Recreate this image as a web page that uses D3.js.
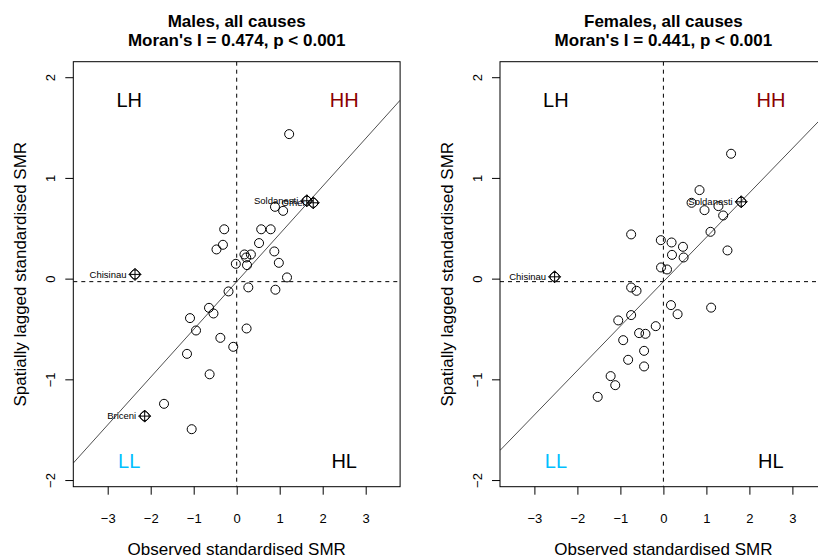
<!DOCTYPE html>
<html>
<head>
  <meta charset="utf-8">
  <style>
    html, body {
      margin: 0;
      overflow: hidden;
      background: #fff;
    }
    svg { display: block; }
    text {
      font-family: "Liberation Sans", Arial, sans-serif;
      fill: #000;
    }
    .title { font-size: 17px; font-weight: bold; }
    .axis text { font-size: 13px; }
    .axis line { stroke: #000; }
    .axlab { font-size: 17px; }
    .quad { font-size: 20px; }
    .name { font-size: 9.5px; }
    .pt, .inf { fill: none; stroke: #000; stroke-width: 1px; }
    .box { fill: none; stroke: #000; stroke-width: 1px; }
    .ref { stroke: #000; stroke-width: 1px; stroke-dasharray: 4,4; }
    .reg { stroke: #222; stroke-width: 0.8px; }
  </style>
  <script src="https://d3js.org/d3.v7.min.js"></script>
</head>
<body>
  <svg id="svg" width="818" height="560"></svg>
  <script>
    var X_TICKS = [-3, -2, -1, 0, 1, 2, 3];
    var Y_TICKS = [-2, -1, 0, 1, 2];
    var X_DOMAIN = [-3.8, 3.8];
    var Y_DOMAIN = [-2.066, 2.154];

    var QUAD_LABELS = ["LH", "HH", "LL", "HL"];
    var QUAD_X = [-2.5, 2.5, -2.5, 2.5];
    var QUAD_Y = [1.78, 1.78, -1.81, -1.81];
    var QUAD_COLORS = ["#000000", "#8b0000", "#00bfff", "#000000"];

    var TITLES = ["Males, all causes", "Females, all causes"];
    var MORAN_I = [0.474, 0.441];
    var LAG_MEAN = [-0.03, -0.03];
    var X_LABEL = "Observed standardised SMR";
    var Y_LABEL = "Spatially lagged standardised SMR";

    // males: observed (x) and spatially lagged (y) standardised SMR
    var maleX = [1.22, 1.63, 1.78, 0.89, 1.08, -0.29, 0.57, 0.79, -0.32, -0.47,
                 0.52, 0.875, 0.18, 0.33, 0.22, -0.02, 0.24, 0.98, 1.17, -2.365,
                 0.27, 0.90, -0.19, -0.644, -0.54, -1.086, -0.946, 0.23, -0.38, -0.08,
                 -1.156, -0.63, -1.69, -2.14, -1.047];
    var maleY = [1.435, 0.773, 0.753, 0.713, 0.673, 0.49, 0.49, 0.49, 0.336, 0.29,
                 0.353, 0.27, 0.24, 0.24, 0.21, 0.147, 0.134, 0.157, 0.012, 0.042,
                 -0.087, -0.11, -0.127, -0.29, -0.346, -0.392, -0.515, -0.495, -0.588, -0.677,
                 -0.747, -0.95, -1.243, -1.365, -1.495];
    var maleNames = ["", "Soldanesti", "Orhei", "", "", "", "", "", "", "",
                     "", "", "", "", "", "", "", "", "", "Chisinau",
                     "", "", "", "", "", "", "", "", "", "",
                     "", "", "", "Briceni", ""];

    // females
    var femaleX = [1.574, 0.84, 1.81, 0.655, 1.28, 0.956, 1.39, 1.095, -0.75, -0.06,
                   0.19, 0.455, 1.49, 0.2, 0.47, -0.055, 0.084, -2.53, -0.75, -0.625,
                   0.176, 1.11, 0.33, -0.75, -1.05, -0.178, -0.565, -0.417, -0.935, -0.449,
                   -0.82, -0.449, -1.227, -1.12, -1.528];
    var femaleY = [1.24, 0.879, 0.763, 0.753, 0.72, 0.68, 0.627, 0.465, 0.439, 0.382,
                   0.359, 0.316, 0.28, 0.236, 0.21, 0.111, 0.091, 0.018, -0.088, -0.121,
                   -0.263, -0.288, -0.353, -0.362, -0.415, -0.472, -0.541, -0.548, -0.611, -0.717,
                   -0.806, -0.872, -0.968, -1.058, -1.174];
    var femaleNames = ["", "", "Soldanesti", "", "", "", "", "", "", "",
                       "", "", "", "", "", "", "", "Chisinau", "", "",
                       "", "", "", "", "", "", "", "", "", "",
                       "", "", "", "", ""];

    var PLOT_W = 326.8;
    var TOP = 61.7, BOTTOM = 486.7;
    var panels = [
      {left: 73.3, xs: maleX, ys: maleY, names: maleNames},
      {left: 500, xs: femaleX, ys: femaleY, names: femaleNames}
    ];

    var svg = d3.select("#svg");
    var defs = svg.append("defs");

    panels.forEach(function(p, i) {
      var x = d3.scaleLinear().domain(X_DOMAIN).range([p.left, p.left + PLOT_W]);
      var y = d3.scaleLinear().domain(Y_DOMAIN).range([BOTTOM, TOP]);
      var cx = p.left + PLOT_W / 2;
      var g = svg.append("g");

      defs.append("clipPath").attr("id", "clip" + i)
        .append("rect")
        .attr("x", p.left).attr("y", TOP)
        .attr("width", PLOT_W).attr("height", BOTTOM - TOP);

      // titles
      g.append("text").attr("class", "title")
        .attr("x", cx).attr("y", 26.7)
        .attr("text-anchor", "middle")
        .text(TITLES[i]);
      g.append("text").attr("class", "title")
        .attr("x", cx).attr("y", 46)
        .attr("text-anchor", "middle")
        .text("Moran's I = " + MORAN_I[i].toFixed(3) + ", p < 0.001");

      // axes
      var xAxis = d3.axisBottom(x).tickValues(X_TICKS).tickSize(8).tickPadding(19)
        .tickFormat(d3.format("d"));
      var xg = g.append("g").attr("class", "axis")
        .attr("transform", "translate(0," + BOTTOM + ")")
        .call(xAxis);
      xg.select(".domain").remove();
      xg.selectAll("text").attr("font-family", null).attr("font-size", null);

      var yAxis = d3.axisLeft(y).tickValues(Y_TICKS).tickSize(8)
        .tickFormat(d3.format("d"));
      var yg = g.append("g").attr("class", "axis")
        .attr("transform", "translate(" + p.left + ",0)")
        .call(yAxis);
      yg.select(".domain").remove();
      yg.selectAll("text")
        .attr("font-family", null).attr("font-size", null)
        .attr("x", 0).attr("y", -23).attr("dy", "0.35em")
        .attr("text-anchor", "middle")
        .attr("transform", "rotate(-90)");

      // axis titles
      g.append("text").attr("class", "axlab")
        .attr("x", cx).attr("y", 549).attr("dy", "0.35em")
        .attr("text-anchor", "middle")
        .text(X_LABEL);
      g.append("text").attr("class", "axlab")
        .attr("transform", "translate(" + (p.left - 53) + "," + ((TOP + BOTTOM) / 2) + ") rotate(-90)")
        .attr("dy", "0.35em")
        .attr("text-anchor", "middle")
        .text(Y_LABEL);

      var inner = g.append("g").attr("clip-path", "url(#clip" + i + ")");

      // reference lines
      inner.append("line").attr("class", "ref")
        .attr("x1", x(0)).attr("x2", x(0))
        .attr("y1", TOP).attr("y2", BOTTOM);
      inner.append("line").attr("class", "ref")
        .attr("x1", p.left).attr("x2", p.left + PLOT_W)
        .attr("y1", y(LAG_MEAN[i])).attr("y2", y(LAG_MEAN[i]));

      // regression line, slope = Moran's I
      inner.append("line").attr("class", "reg")
        .attr("x1", x(X_DOMAIN[0])).attr("y1", y(LAG_MEAN[i] + MORAN_I[i] * X_DOMAIN[0]))
        .attr("x2", x(X_DOMAIN[1])).attr("y2", y(LAG_MEAN[i] + MORAN_I[i] * X_DOMAIN[1]));

      // quadrant labels
      QUAD_LABELS.forEach(function(q, k) {
        inner.append("text").attr("class", "quad")
          .attr("x", x(QUAD_X[k])).attr("y", y(QUAD_Y[k]))
          .attr("dy", "0.36em")
          .attr("text-anchor", "middle")
          .style("fill", QUAD_COLORS[k])
          .text(q);
      });

      var idx = d3.range(p.xs.length);

      inner.selectAll("circle.pt").data(idx).enter()
        .append("circle").attr("class", "pt")
        .attr("cx", function(d) { return x(p.xs[d]); })
        .attr("cy", function(d) { return y(p.ys[d]); })
        .attr("r", 4.5);

      var inf = idx.filter(function(d) { return p.names[d] !== ""; });
      inner.selectAll("path.inf").data(inf).enter()
        .append("path").attr("class", "inf")
        .attr("d", function(d) {
          var px = x(p.xs[d]), py = y(p.ys[d]), s = 6;
          return "M" + px + "," + (py - s) + "L" + (px + s) + "," + py +
                 "L" + px + "," + (py + s) + "L" + (px - s) + "," + py + "Z" +
                 "M" + (px - s) + "," + py + "H" + (px + s) +
                 "M" + px + "," + (py - s) + "V" + (py + s);
        });
      inner.selectAll("text.name").data(inf).enter()
        .append("text").attr("class", "name")
        .attr("x", function(d) { return x(p.xs[d]) - 8.5; })
        .attr("y", function(d) { return y(p.ys[d]); })
        .attr("dy", "0.35em")
        .attr("text-anchor", "end")
        .text(function(d) { return p.names[d]; });

      g.append("rect").attr("class", "box")
        .attr("x", p.left).attr("y", TOP)
        .attr("width", PLOT_W).attr("height", BOTTOM - TOP);
    });
  </script>
</body>
</html>
